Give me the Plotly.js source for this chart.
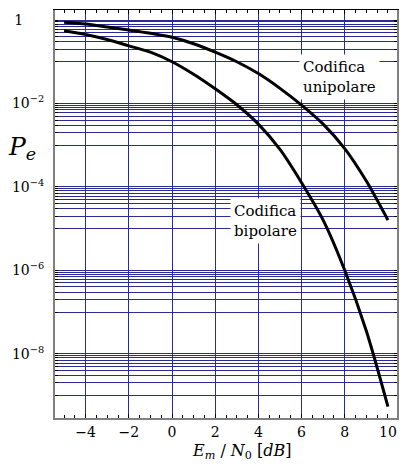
<!DOCTYPE html>
<html>
<head>
<meta charset="utf-8">
<script src="https://cdn.plot.ly/plotly-3.0.1.min.js"></script>
<style>html,body{margin:0;padding:0;background:#fff;}#chart{width:405px;height:469px;}</style>
</head>
<body>
<div id="chart"></div>
<script>
// Em/N0 in dB
const ebn0 = [-5, -4, -3, -2, -1, 0, 1, 2, 3, 4, 5, 6, 7, 8, 9, 10];
// Pe, unipolar coding
const peUnipolar = [0.88, 0.80, 0.68, 0.575, 0.48, 0.385, 0.27, 0.17, 0.10, 0.052, 0.023, 0.0091, 0.0032, 8.3e-4, 1.38e-4, 1.6e-5];
// Pe, bipolar coding
const peBipolar = [0.55, 0.45, 0.34, 0.24, 0.17, 0.10, 0.05, 0.0224, 0.0093, 0.0032, 7.9e-4, 1.26e-4, 1.6e-5, 1.0e-6, 3.5e-8, 5.4e-10];

const xTicks = [-4, -2, 0, 2, 4, 6, 8, 10];
const xGrid = [-4, -2, 0, 2, 4, 6, 8];
const yDecades = [0, -2, -4, -6, -8];
const yDecadeLabels = ['1\u2003\u2002', '10<sup>\u22122</sup>', '10<sup>\u22124</sup>', '10<sup>\u22126</sup>', '10<sup>\u22128</sup>'];
const yFractions = [1, 0.9, 0.8, 0.7, 0.6, 0.5, 0.4, 0.3, 0.2, 0.1];

const yLabelVals = yDecades.map(d => Math.pow(10, d));
const yGridVals = [];
yDecades.forEach(d => yFractions.forEach(f => yGridVals.push(f * Math.pow(10, d))));

const gridCol = '#2b2b98';
const serif = 'DejaVu Serif';

const traces = [
  {x: ebn0, y: peUnipolar, mode: 'lines', line: {color: '#000', width: 3, shape: 'spline', smoothing: 0.8}, xaxis: 'x2', yaxis: 'y2', hoverinfo: 'skip'},
  {x: ebn0, y: peBipolar, mode: 'lines', line: {color: '#000', width: 3, shape: 'spline', smoothing: 0.8}, xaxis: 'x', yaxis: 'y', hoverinfo: 'skip'}
];

const xr = [-5.42, 10.42];
const yr = [-9.54, 0.24];
const layout = {
  width: 405, height: 469,
  margin: {l: 55, r: 8, t: 10, b: 51},
  paper_bgcolor: '#fff', plot_bgcolor: '#fff',
  showlegend: false,
  font: {family: serif, color: '#000', size: 14},
  xaxis: {
    range: xr, tickmode: 'array', tickvals: xTicks,
    ticktext: xTicks.map(v => v < 0 ? '\u2212' + Math.abs(v) : String(v)),
    ticks: 'inside', ticklen: 4, tickcolor: '#000', tickwidth: 1,
    minor: {tickmode: 'linear', tick0: 0, dtick: 0.5, ticks: 'inside', ticklen: 3, tickcolor: '#000', showgrid: false},
    showgrid: false, zeroline: false,
    showline: true, linecolor: '#808080', linewidth: 2,
    tickfont: {family: serif, size: 14}
  },
  xaxis2: {
    range: xr, overlaying: 'x', side: 'top', anchor: 'y2',
    tickmode: 'array', tickvals: xGrid, showticklabels: false,
    ticks: 'inside', ticklen: 4, tickcolor: '#000',
    minor: {tickmode: 'linear', tick0: 0, dtick: 0.5, ticks: 'inside', ticklen: 3, tickcolor: '#000', showgrid: false},
    showgrid: true, gridcolor: gridCol, gridwidth: 1, zeroline: false,
    showline: true, linecolor: '#000', linewidth: 1
  },
  yaxis: {
    type: 'log', range: yr,
    tickmode: 'array', tickvals: yLabelVals, ticktext: yDecadeLabels,
    ticks: '', showgrid: false, zeroline: false,
    showline: true, linecolor: '#808080', linewidth: 2, mirror: true,
    tickfont: {family: serif, size: 14},
    ticklabelstandoff: 6
  },
  yaxis2: {
    type: 'log', range: yr, overlaying: 'y', side: 'left', anchor: 'x2',
    tickmode: 'array', tickvals: yGridVals, showticklabels: false,
    ticks: 'inside', ticklen: 3, tickcolor: '#000', mirror: 'ticks',
    showgrid: true, gridcolor: gridCol, gridwidth: 1, zeroline: false,
    showline: false
  },
  annotations: [
    {x: 7.74, y: -1.37, xref: 'x', yref: 'y', text: 'Codifica<br>unipolare', showarrow: false,
     bgcolor: '#fff', borderpad: 3, font: {family: serif, size: 15, color: '#000'}, align: 'left'},
    {x: 4.31, y: -4.82, xref: 'x', yref: 'y', text: 'Codifica<br>bipolare', showarrow: false,
     bgcolor: '#fff', borderpad: 3, font: {family: serif, size: 15, color: '#000'}, align: 'left'},
    {x: -0.096, y: 0.662, xref: 'paper', yref: 'paper', text: '<i>P</i><sub><i>e</i></sub>', showarrow: false,
     font: {family: serif, size: 25, color: '#000'}, xanchor: 'center', yanchor: 'middle'},
    {x: 0.547, y: -0.083, xref: 'paper', yref: 'paper', text: '<i>E</i><sub><i>m</i></sub> / <i>N</i><sub>0</sub> [<i>dB</i>]', showarrow: false,
     font: {family: serif, size: 16, color: '#000'}, xanchor: 'center', yanchor: 'middle'}
  ]
};

Plotly.newPlot('chart', traces, layout, {staticPlot: true, displayModeBar: false});
</script>
</body>
</html>
